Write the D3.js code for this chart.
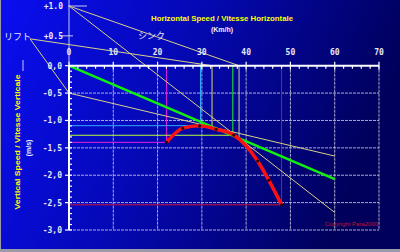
<!DOCTYPE html>
<html lang="en">
<head>
  <meta charset="UTF-8">
  <title>Polar</title>
  <script src="https://d3js.org/d3.v7.min.js"></script>
  <style>
    body { margin: 0; padding: 0; background: #000; }
    svg { display: block; }
    .tick-label { font-family: 'DejaVu Sans Mono', monospace; font-weight: bold; font-size: 8px; fill: #e8e8f4; }
    .grid { stroke: #c8c8e0; stroke-width: 1; stroke-dasharray: 3,1; opacity: 0.85; }
  </style>
</head>
<body>
<div id="chart"></div>
<script>
// polar curve (km/h, m/s)
const polarSpeed = [22, 25.7, 29.5, 33.2, 37.2, 42.6, 45.1, 48];
const polarSink  = [-1.40, -1.14, -1.095, -1.16, -1.265, -1.74, -2.09, -2.54];

// characteristic points
const minSpeed = [22, -1.40];
const minSink = [29.7, -1.095];
const bestGlide = [37, -1.27];
const maxSpeed = [48, -2.54];
const liftSpeed = [32.3, -1.13];
const sinkSpeed = [38.4, -1.35];

// tangent lines [from, to]
const glideLine = [[0, 0], [60, -2.07]];
const tangentLines = [
  [[0, 1.0], [60, -2.68]],
  [[0, -0.5], [60, -1.65]]
];
// label leaders
const leaderLines = [
  [[-8.8, 0.45], [0, -0.5]],
  [[-8.8, 0.45], [32.3, 0]],
  [[0, 1.0], [38.4, 0]]
];

const xTicks = [0, 10, 20, 30, 40, 50, 60, 70];
const yTicks = [0, -0.5, -1.0, -1.5, -2.0, -2.5, -3.0];
const yTickLabels = ["0,0", "-0,5", "-1,0", "-1,5", "-2,0", "-2,5", "-3,0"];
const yPosTicks = [1.0, 0.5];
const yPosLabels = ["+1.0", "+0.5"];

const W = 400, H = 252;
const x = d3.scaleLinear().domain([0, 70]).range([69, 379]);
const y = d3.scaleLinear().domain([-3, 0, 1]).range([230, 65.7, 6]);

const svg = d3.select("#chart").append("svg").attr("width", W).attr("height", H);

const defs = svg.append("defs");
const grad = defs.append("linearGradient").attr("id", "bg")
  .attr("x1", 0).attr("y1", 0).attr("x2", 1).attr("y2", 0.25);
grad.append("stop").attr("offset", "0%").attr("stop-color", "#0a0ef0");
grad.append("stop").attr("offset", "45%").attr("stop-color", "#0509b8");
grad.append("stop").attr("offset", "100%").attr("stop-color", "#00005c");

svg.append("rect").attr("width", W).attr("height", H).attr("fill", "#9a9aa8");
svg.append("rect").attr("x", 1).attr("y", 0).attr("width", W - 1).attr("height", 249).attr("fill", "url(#bg)");

// grid
svg.append("g").selectAll("line").data(xTicks.slice(1)).join("line")
  .attr("class", "grid")
  .attr("x1", d => x(d)).attr("x2", d => x(d))
  .attr("y1", y(0)).attr("y2", y(-3));
svg.append("g").selectAll("line").data(yTicks.slice(1)).join("line")
  .attr("class", "grid")
  .attr("x1", x(0)).attr("x2", x(70))
  .attr("y1", d => y(d)).attr("y2", d => y(d));

// upper part of y axis
svg.append("line").attr("x1", x(0)).attr("x2", x(0)).attr("y1", 0).attr("y2", y(0))
  .attr("stroke", "#c8c8f0").attr("stroke-width", 1);
svg.append("line").attr("x1", x(0) - 1).attr("x2", x(0) + 18).attr("y1", y(1)).attr("y2", y(1))
  .attr("stroke", "#c8c8f0");
svg.append("line").attr("x1", x(0) - 7).attr("x2", x(0) + 4).attr("y1", y(0.5)).attr("y2", y(0.5))
  .attr("stroke", "#c8c8f0");
svg.append("line").attr("x1", 23).attr("x2", 23).attr("y1", 60).attr("y2", 71)
  .attr("stroke", "#c8c8f0");

const pt = p => [x(p[0]), y(p[1])];

// reference lines to characteristic points
function corner(p, hColor, vColor) {
  svg.append("line").attr("x1", x(0)).attr("x2", x(p[0])).attr("y1", y(p[1])).attr("y2", y(p[1]))
    .attr("stroke", hColor).attr("stroke-width", 1);
  svg.append("line").attr("x1", x(p[0])).attr("x2", x(p[0])).attr("y1", y(0)).attr("y2", y(p[1]))
    .attr("stroke", vColor).attr("stroke-width", 1);
}
corner(maxSpeed, "#d0103a", "#c0103a");
corner(minSpeed, "#e020e0", "#e020e0");
corner(minSink, "#30a8ff", "#30a8ff");
corner(bestGlide, "#b8ff30", "#20ff20");
svg.append("line").attr("x1", x(liftSpeed[0])).attr("x2", x(liftSpeed[0])).attr("y1", y(0)).attr("y2", y(liftSpeed[1]))
  .attr("stroke", "#e0d860");
svg.append("line").attr("x1", x(sinkSpeed[0])).attr("x2", x(sinkSpeed[0])).attr("y1", y(0)).attr("y2", y(sinkSpeed[1]))
  .attr("stroke", "#d8d090");

// leaders and tangents
svg.append("g").selectAll("line").data(leaderLines.concat(tangentLines)).join("line")
  .attr("x1", d => x(d[0][0])).attr("y1", d => y(d[0][1]))
  .attr("x2", d => x(d[1][0])).attr("y2", d => y(d[1][1]))
  .attr("stroke", "#d8d088").attr("stroke-width", 1);

// glide line
svg.append("line")
  .attr("x1", x(glideLine[0][0])).attr("y1", y(glideLine[0][1]))
  .attr("x2", x(glideLine[1][0])).attr("y2", y(glideLine[1][1]))
  .attr("stroke", "#10f010").attr("stroke-width", 2.5);

// polar curve
const polar = polarSpeed.map((v, i) => [v, polarSink[i]]);
svg.append("path").datum(polar)
  .attr("d", d3.line().x(d => x(d[0])).y(d => y(d[1])).curve(d3.curveMonotoneX))
  .attr("fill", "none").attr("stroke", "#ff1010").attr("stroke-width", 3.5);
svg.append("g").selectAll("circle").data(polar).join("circle")
  .attr("cx", d => x(d[0])).attr("cy", d => y(d[1])).attr("r", 1.5).attr("fill", "#200000");

// x axis
const xMinor = d3.range(0, 71, 2);
svg.append("line").attr("x1", x(0)).attr("x2", x(70)).attr("y1", y(0)).attr("y2", y(0))
  .attr("stroke", "#fff").attr("stroke-width", 2);
svg.append("g").selectAll("line").data(xMinor).join("line")
  .attr("x1", d => x(d)).attr("x2", d => x(d))
  .attr("y1", d => d % 10 === 0 ? y(0) - 4 : y(0))
  .attr("y2", d => d % 10 === 0 ? y(0) + 4 : y(0) + 3)
  .attr("stroke", "#fff").attr("stroke-width", 1.2);
svg.append("g").selectAll("text").data(xTicks).join("text")
  .attr("class", "tick-label")
  .attr("x", d => x(d)).attr("y", 55)
  .attr("text-anchor", "middle")
  .text(d => d);

// y axis
const yMinor = d3.range(0, 31).map(i => -i / 10);
svg.append("line").attr("x1", x(0)).attr("x2", x(0)).attr("y1", y(0)).attr("y2", y(-3))
  .attr("stroke", "#fff").attr("stroke-width", 2);
svg.append("g").selectAll("line").data(yMinor).join("line")
  .attr("x1", (d, i) => i % 5 === 0 ? x(0) - 4 : x(0))
  .attr("x2", x(0) + 3)
  .attr("y1", d => y(d)).attr("y2", d => y(d))
  .attr("stroke", "#fff").attr("stroke-width", 1.2);
svg.append("g").selectAll("text").data(yTicks).join("text")
  .attr("class", "tick-label")
  .attr("x", 62).attr("y", d => y(d) + 3)
  .attr("text-anchor", "end")
  .text((d, i) => yTickLabels[i]);
svg.append("g").selectAll("text").data(yPosTicks).join("text")
  .attr("class", "tick-label")
  .attr("x", 63).attr("y", d => y(d) + 3)
  .attr("text-anchor", "end")
  .text((d, i) => yPosLabels[i]);

// titles
svg.append("text").attr("x", 222).attr("y", 21).attr("text-anchor", "middle")
  .attr("font-family", "Liberation Sans, Arial, sans-serif").attr("font-weight", "bold")
  .attr("font-size", "8px").attr("fill", "#ffff00")
  .attr("textLength", 142).attr("lengthAdjust", "spacingAndGlyphs")
  .text("Horizontal Speed / Vitesse Horizontale");
svg.append("text").attr("x", 222).attr("y", 32).attr("text-anchor", "middle")
  .attr("font-family", "Liberation Sans, Arial, sans-serif").attr("font-weight", "bold")
  .attr("font-size", "7px").attr("fill", "#f0f0ff")
  .text("(Km/h)");
svg.append("text").attr("transform", "translate(20,142) rotate(-90)").attr("text-anchor", "middle")
  .attr("font-family", "Liberation Sans, Arial, sans-serif").attr("font-weight", "bold")
  .attr("font-size", "8px").attr("fill", "#ffff00")
  .attr("textLength", 135).attr("lengthAdjust", "spacingAndGlyphs")
  .text("Vertical Speed / Vitesse Verticale");
svg.append("text").attr("transform", "translate(31,148) rotate(-90)").attr("text-anchor", "middle")
  .attr("font-family", "Liberation Sans, Arial, sans-serif").attr("font-weight", "bold")
  .attr("font-size", "7px").attr("fill", "#f0f0ff")
  .text("(m/s)");

// japanese labels
svg.append("text").attr("x", 4).attr("y", 40)
  .attr("font-family", "Noto Sans CJK JP").attr("font-size", "9px").attr("fill", "#e8e8ff")
  .text("リフト");
svg.append("text").attr("x", 138).attr("y", 39)
  .attr("font-family", "Noto Sans CJK JP").attr("font-size", "9px").attr("fill", "#e8e8ff")
  .text("シンク");

svg.append("text").attr("x", 378).attr("y", 226).attr("text-anchor", "end")
  .attr("font-family", "Liberation Sans, Arial, sans-serif").attr("font-size", "6px")
  .attr("fill", "#c01830")
  .text("Copyright Para2000");
</script>
</body>
</html>
